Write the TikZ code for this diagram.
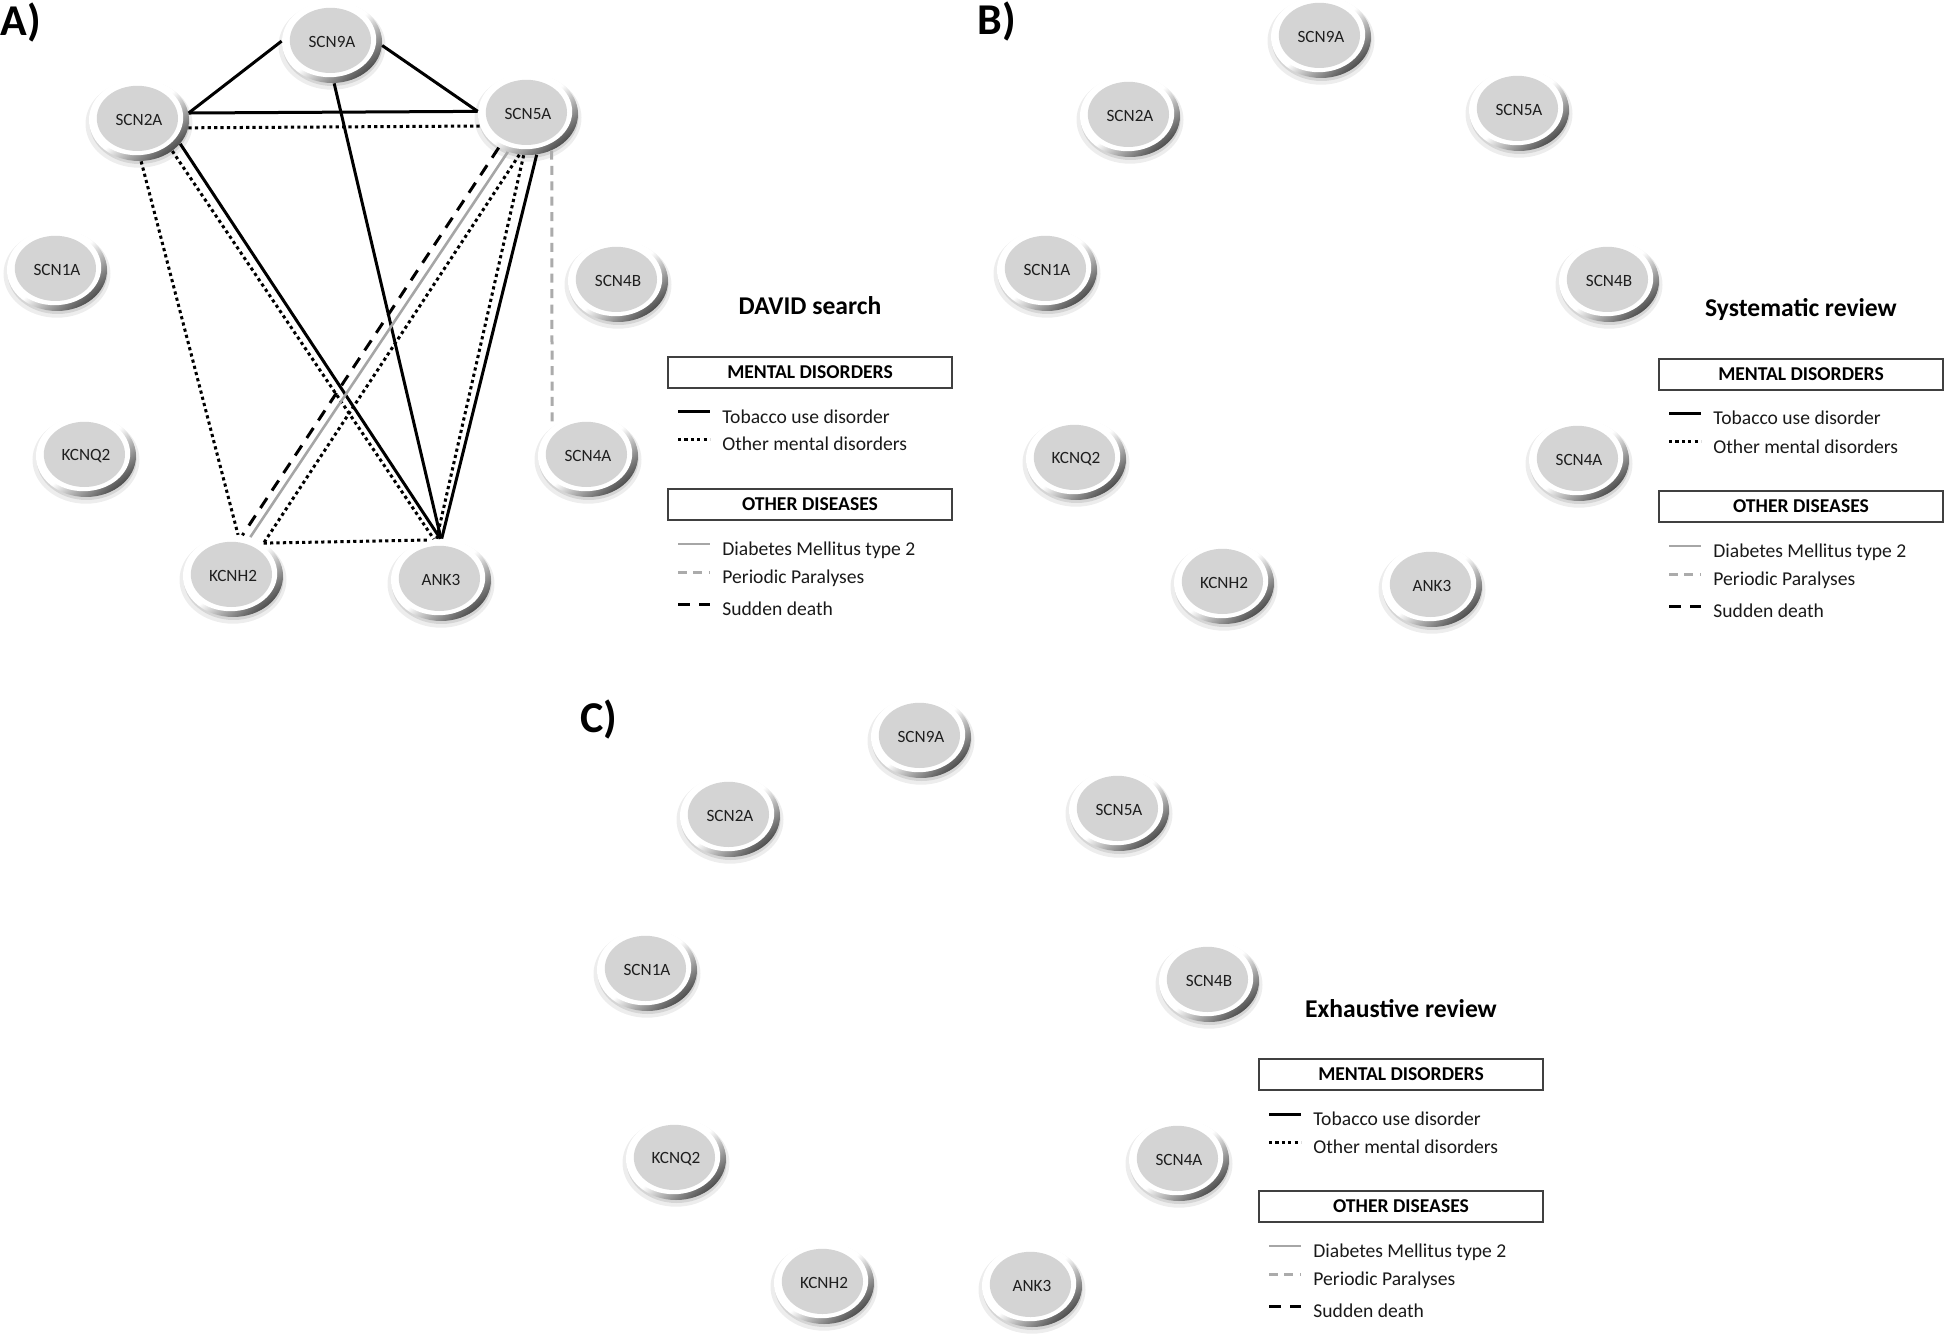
\documentclass[tikz,border=0pt]{standalone}
\usepackage{fontspec}
\setmainfont{Carlito}
\usetikzlibrary{shapes.geometric,shadows}
\newcommand{\legendpanel}[4]{%
\begin{scope}[shift={(#1,#2)}]
\node[ttl] (#4title) at (142,-42) {#3};
\node[legbox] (#4box1) at (142,15.5) {MENTAL DISORDERS};
\draw[eTob] (10,55) -- (42,55);
\node[legtext] (#4t1) at (54,66) {Tobacco use disorder};
\draw[eOth] (10,83) -- (42,83);
\node[legtext] (#4t2) at (54,94) {Other mental disorders};
\node[legbox] (#4box2) at (142,147.5) {OTHER DISEASES};
\draw[eDia] (10,187) -- (42,187);
\node[legtext] (#4t3) at (54,198) {Diabetes Mellitus type 2};
\draw[ePer] (10,215) -- (42,215);
\node[legtext] (#4t4) at (54,226) {Periodic Paralyses};
\draw[eSud] (10,247) -- (42,247);
\node[legtext] (#4t5) at (54,258) {Sudden death};
\end{scope}}
\newcommand{\genering}[1]{%
\node[gene] (#1s9) at (1321,37) {SCN9A};
\node[gene] (#1s2) at (1130,116) {SCN2A};
\node[gene] (#1s5) at (1519,110) {SCN5A};
\node[gene] (#1s1) at (1047,270) {SCN1A};
\node[gene] (#1s4b) at (1609,281) {SCN4B};
\node[gene] (#1kq) at (1076,459) {KCNQ2};
\node[gene] (#1s4a) at (1579,460) {SCN4A};
\node[gene] (#1kh) at (1224,583) {KCNH2};
\node[gene] (#1ak) at (1432,586) {ANK3};
}
\begin{document}
\begin{tikzpicture}[x=0.5pt,y=-0.5pt,
  gene/.style={ellipse, minimum width=50pt, minimum height=41pt, inner sep=0pt,
    general shadow={shadow scale=1.07, shadow yshift=-1.8pt, opacity=0.07, fill=black},
    drop shadow={shadow xshift=0.3pt, shadow yshift=-1.5pt, opacity=0.10, fill=black},
    top color=white, bottom color=black!70, middle color=white, shading angle=40,
    path picture={
      \fill[white] ([xshift=-1.2pt,yshift=1.2pt]path picture bounding box.center) ellipse [x radius=23.3pt, y radius=18.8pt];
      \fill[black!17] ([xshift=-0.8pt,yshift=0.8pt]path picture bounding box.center) ellipse [x radius=20.3pt, y radius=16.3pt];},
    font=\fontsize{8.6}{10}\selectfont, text=black!88},
  eTob/.style={black, line width=1.5pt},
  eOth/.style={black, line width=1.5pt, dash pattern=on 1.6pt off 1.6pt},
  eDia/.style={black!35, line width=1.3pt},
  ePer/.style={black!33, line width=1.5pt, dash pattern=on 4.5pt off 3.2pt},
  eSud/.style={black, line width=1.5pt, dash pattern=on 6pt off 4.5pt},
  legtext/.style={font=\fontsize{9.8}{11}\selectfont, anchor=base west, inner sep=0pt, text=black!90},
  legbox/.style={draw=black!75, line width=0.7pt, minimum width=142pt, minimum height=15.5pt, inner sep=0pt, font=\bfseries\fontsize{9.8}{11}\selectfont},
  ttl/.style={font=\bfseries\fontsize{12.8}{14}\selectfont, anchor=base, inner sep=0pt},
  panel/.style={font=\bfseries\fontsize{22}{24}\selectfont, anchor=base west, inner sep=0pt}
]
\useasboundingbox (0,0) rectangle (1946,1336);

% ---------- Panel A ----------
\node[panel] (labA) at (0,36) {A)};
\node[gene] (a9) at (332,42) {SCN9A};
\node[gene] (a2) at (139,120) {SCN2A};
\node[gene] (a5) at (528,114) {SCN5A};
\node[gene] (a1) at (57,270) {SCN1A};
\node[gene] (a4b) at (618,281) {SCN4B};
\node[gene] (akq) at (86,456) {KCNQ2};
\node[gene] (a4a) at (588,456) {SCN4A};
\node[gene] (akh) at (233,576) {KCNH2};
\node[gene] (aak) at (441,580) {ANK3};

\draw[eTob] (a9.179) -- (a2.8);
\draw[eTob] (a9.-4) -- (a5.177);
\draw[eTob] (a2.8) -- (a5.177);
\draw[eOth] (a2.-9) -- (a5.194);
\draw[eTob] (a9.-87) -- (aak.90);
\draw[eTob] (a2.-30) -- (aak.91);
\draw[eOth] (a2.-43) -- (aak.100);
\draw[eOth] (a2.-87) -- (akh.83);
\draw[eSud] (a5.229) -- (akh.77);
\draw[eDia] (a5.242) -- (akh.66);
\draw[eOth] (a5.258) -- (akh.47);
\draw[eOth] (a5.264) -- (aak.96);
\draw[eTob] (a5.-78) -- (aak.89);
\draw[eOth] (akh.47) -- (aak.108);
\draw[ePer] (a5.-57) -- (a4a.141);

\legendpanel{668}{357}{DAVID search}{la}

% ---------- Panel B ----------
\node[panel] (labB) at (977,35) {B)};
\genering{b}
\legendpanel{1659}{359}{Systematic review}{lb}

% ---------- Panel C ----------
\node[panel] (labC) at (580,732) {C)};
\begin{scope}[shift={(-400,700)}]
\genering{c}
\end{scope}
\legendpanel{1259}{1059}{Exhaustive review}{lc}
\end{tikzpicture}
\end{document}
